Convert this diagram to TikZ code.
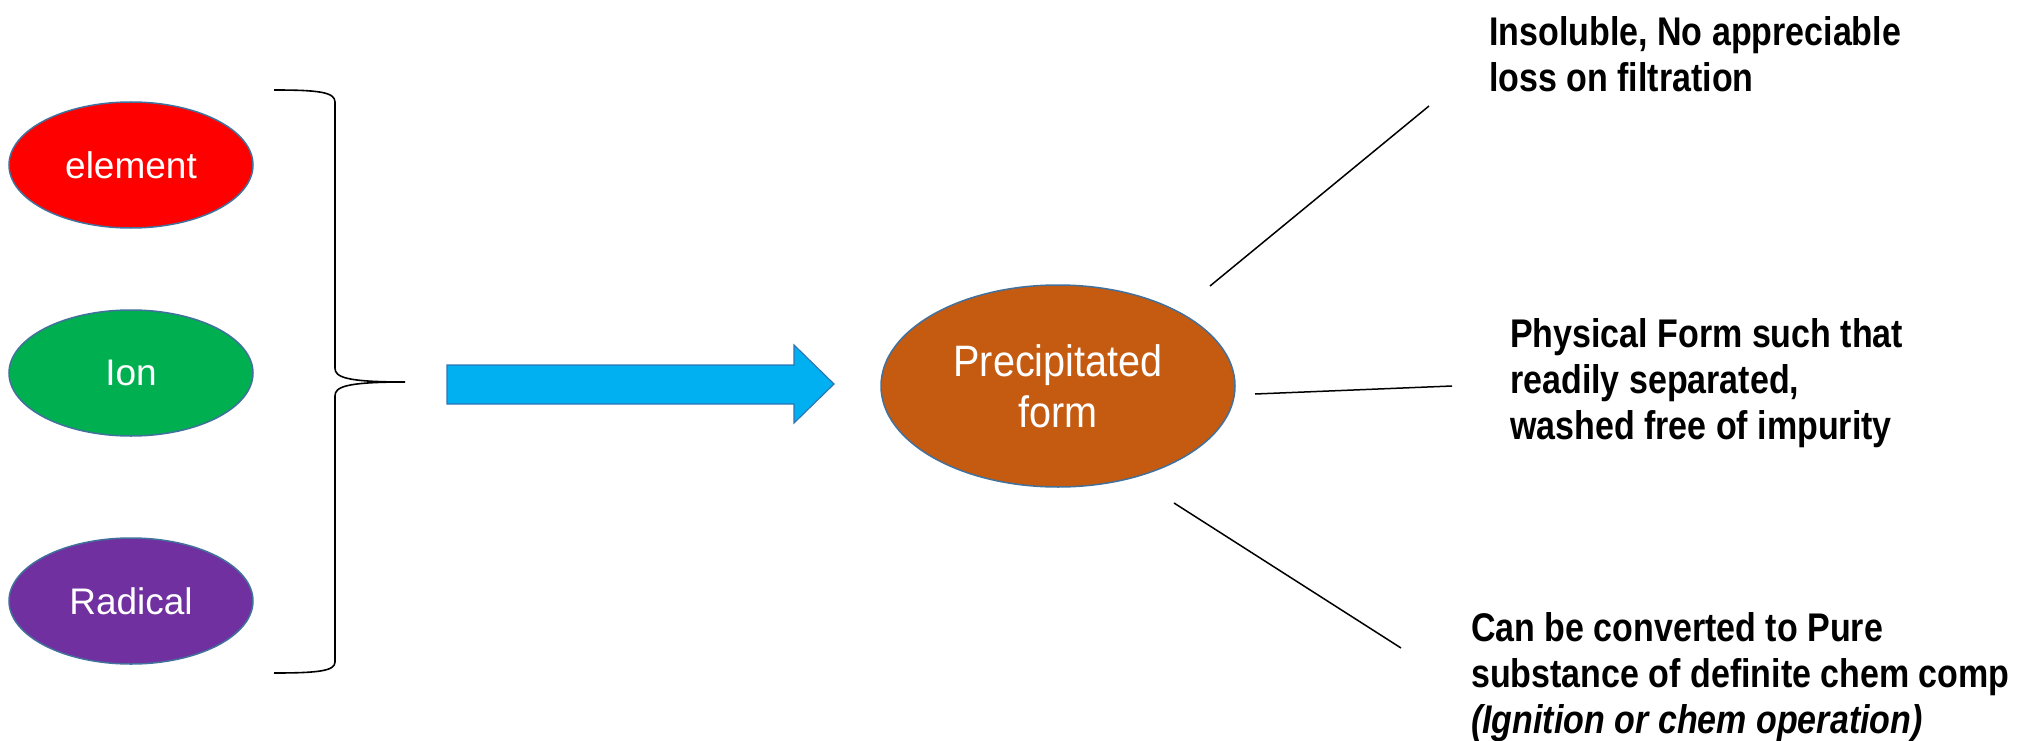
\documentclass[tikz,border=0pt]{standalone}
\usepackage{fontspec}
\setmainfont{Liberation Sans}
\newfontfamily\cond[FakeStretch=0.85]{Liberation Sans}
\newfontfamily\condreg[FakeStretch=0.9]{Liberation Sans}
\usetikzlibrary{shapes.geometric}
\definecolor{ered}{HTML}{FF0000}
\definecolor{egreen}{HTML}{00B050}
\definecolor{epurple}{HTML}{7030A0}
\definecolor{ebrown}{HTML}{C55A11}
\definecolor{eline}{HTML}{41719C}
\definecolor{acyan}{HTML}{00B0F0}
\definecolor{aline}{HTML}{2E75B6}
\tikzset{
  blob/.style={ellipse, draw=eline, line width=1.5pt, inner sep=0pt, text=white,
    minimum width=244pt, minimum height=126pt, font=\fontsize{37}{44}\selectfont},
  bigblob/.style={ellipse, draw=eline, line width=1.5pt, inner sep=0pt, text=white,
    fill=ebrown, minimum width=354pt, minimum height=202pt, align=center,
    font=\condreg\fontsize{44}{51}\selectfont},
  note/.style={anchor=west, align=left, inner sep=0pt, text=black,
    font=\cond\bfseries\fontsize{40}{46}\selectfont},
  ray/.style={draw=black, line width=1.5pt},
}
\begin{document}
\begin{tikzpicture}[x=1pt,y=-1pt]
\useasboundingbox (0,0) rectangle (2018,741);
% left ellipses
\node[blob, fill=ered] (element) at (131,165) {element};
\node[blob, fill=egreen] (ion) at (131,373) {Ion};
\node[blob, fill=epurple] (radical) at (131,601) {Radical};
% brace
\coordinate (btop) at (274,90);
\coordinate (btip) at (405,382);
\coordinate (bbot) at (274,673);
\draw[line width=1.6pt] (btop) .. controls (318,90) and (335,92) .. (335,102)
  -- (335,368) .. controls (335,377) and (345,382) .. (btip)
  .. controls (345,382) and (335,387) .. (335,396)
  -- (335,662) .. controls (335,671) and (318,673) .. (bbot);
% arrow
\draw[fill=acyan, draw=aline, line width=1.2pt]
  (447,365) -- (794,365) -- (794,345) -- (834,384) -- (794,423) -- (794,404) -- (447,404) -- cycle;
% central ellipse
\node[bigblob] (prec) at (1058,386) {Precipitated\\form};
% rays
\coordinate (r1a) at (1210,286); \coordinate (r1b) at (1429,106);
\coordinate (r2a) at (1255,394); \coordinate (r2b) at (1452,386);
\coordinate (r3a) at (1174,503); \coordinate (r3b) at (1401,648);
\draw[ray] (r1a) -- (r1b);
\draw[ray] (r2a) -- (r2b);
\draw[ray] (r3a) -- (r3b);
% notes
\node[note] (n1) at (1489,54) {Insoluble, No appreciable\\loss on filtration};
\node[note] (n2) at (1510,383) {Physical Form such that\\readily separated,\\washed free of impurity};
\node[note] (n3) at (1471,677) {Can be converted to Pure\\substance of definite chem comp\\{\itshape (Ignition or chem operation)}};
\end{tikzpicture}
\end{document}
